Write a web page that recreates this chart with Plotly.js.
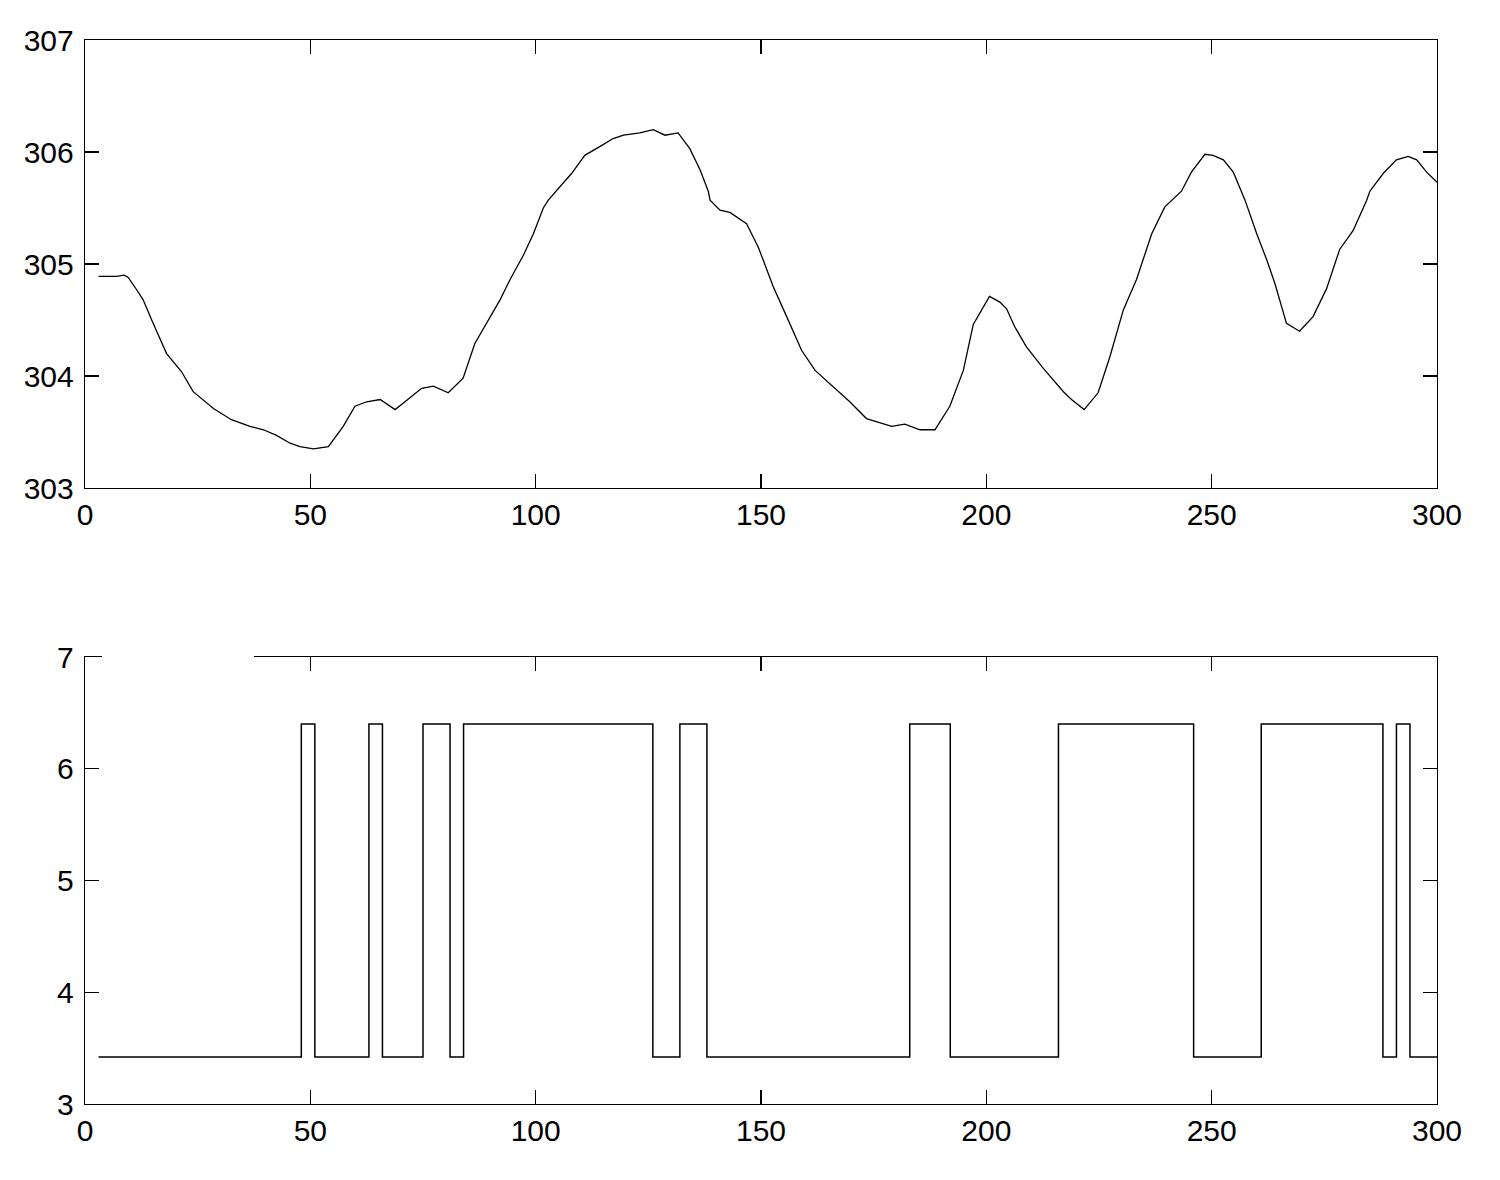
<!DOCTYPE html>
<html>
<head>
<meta charset="utf-8">
<script src="https://cdn.plot.ly/plotly-3.0.1.min.js"></script>
<style>html,body{margin:0;padding:0;background:#fff;}#chart{width:1500px;height:1180px;}</style>
</head>
<body>
<div id="chart"></div>
<script>
// Top panel: signal samples
const sigX = [3, 7, 8.7, 9.6, 11.8, 12.9, 14.8, 17.4, 18.1, 21.4, 24, 28.5, 32.5, 36.6, 39.6, 42.5, 45.5, 47.7, 50.7, 54, 55.1, 57.3, 59.9, 62.5, 65.5, 68.8, 71, 74.7, 77.3, 80.6, 83.9, 86.5, 92.1, 94.3, 97.3, 99.5, 101.7, 102.8, 108, 110.9, 114.3, 117.2, 119.5, 123.1, 126.1, 128.7, 131.6, 134.2, 136.5, 138.3, 138.7, 140.9, 143.1, 146.8, 149.4, 152.7, 155.7, 159, 162, 166, 169.7, 173.4, 176.4, 179, 181.9, 185.3, 188.6, 191.9, 194.9, 197.1, 200.7, 203, 204.5, 206.3, 208.9, 212.6, 217.1, 218.9, 221.7, 224.8, 227.4, 230.4, 233.3, 236.7, 239.6, 241.1, 243.3, 245.5, 248.5, 250.3, 252.6, 254.8, 257.4, 260, 262.2, 264, 266.6, 269.5, 272.5, 275.5, 278.4, 281.4, 284.4, 285.1, 288.1, 291, 293.6, 295.5, 297.7, 300];
const sigY = [304.89, 304.89, 304.90, 304.88, 304.75, 304.68, 304.50, 304.26, 304.20, 304.04, 303.86, 303.71, 303.61, 303.55, 303.52, 303.47, 303.40, 303.37, 303.35, 303.37, 303.43, 303.55, 303.73, 303.77, 303.79, 303.70, 303.77, 303.89, 303.91, 303.85, 303.98, 304.29, 304.68, 304.86, 305.08, 305.27, 305.50, 305.57, 305.81, 305.97, 306.05, 306.12, 306.15, 306.17, 306.20, 306.15, 306.17, 306.03, 305.84, 305.65, 305.57, 305.48, 305.46, 305.36, 305.15, 304.80, 304.53, 304.23, 304.05, 303.90, 303.77, 303.62, 303.58, 303.55, 303.57, 303.52, 303.52, 303.73, 304.05, 304.46, 304.71, 304.66, 304.60, 304.44, 304.26, 304.07, 303.86, 303.79, 303.70, 303.85, 304.17, 304.59, 304.86, 305.27, 305.51, 305.57, 305.65, 305.82, 305.98, 305.97, 305.93, 305.82, 305.57, 305.27, 305.04, 304.83, 304.47, 304.40, 304.53, 304.78, 305.13, 305.30, 305.57, 305.65, 305.81, 305.93, 305.96, 305.93, 305.82, 305.73];

// Bottom panel: step states
const stepX = [3, 48, 51, 63, 66, 75, 81, 84, 126, 132, 138, 183, 192, 216, 246, 261, 288, 291, 294, 300];
const stepY = [3.42, 6.4, 3.42, 6.4, 3.42, 6.4, 3.42, 6.4, 3.42, 6.4, 3.42, 6.4, 3.42, 6.4, 3.42, 6.4, 3.42, 6.4, 3.42, 3.42];

const xTicks = [0, 50, 100, 150, 200, 250, 300];
const yTicksTop = [303, 304, 305, 306, 307];
const yTicksBottom = [3, 4, 5, 6, 7];

const W = 1500, H = 1180;
const axFont = {family: 'Liberation Sans, Arial, sans-serif', size: 30, color: '#000'};
function axis(extra) {
  return Object.assign({
    showline: true, mirror: 'ticks', linecolor: '#000', linewidth: 1.3,
    ticks: 'inside', ticklen: 14, tickwidth: 1.3, tickcolor: '#000',
    showgrid: false, zeroline: false, tickfont: axFont, automargin: false
  }, extra);
}

const traces = [
  {x: sigX, y: sigY, type: 'scatter', mode: 'lines', line: {color: '#000', width: 1.3}, xaxis: 'x', yaxis: 'y', hoverinfo: 'skip'},
  {x: stepX, y: stepY, type: 'scatter', mode: 'lines', line: {color: '#000', width: 1.5, shape: 'hv'}, xaxis: 'x2', yaxis: 'y2', hoverinfo: 'skip'}
];

const xd = [85 / W, 1437 / W];
const layout = {
  width: W, height: H,
  margin: {l: 0, r: 0, t: 0, b: 0},
  paper_bgcolor: '#fff', plot_bgcolor: '#fff',
  showlegend: false,
  xaxis: axis({domain: xd, range: [0, 300], tickvals: xTicks, anchor: 'y', ticklabelstandoff: 0}),
  yaxis: axis({domain: [1 - 488 / H, 1 - 40 / H], range: [303, 307], tickvals: yTicksTop, anchor: 'x', ticklabelstandoff: 4}),
  xaxis2: axis({domain: xd, range: [0, 300], tickvals: xTicks, anchor: 'y2', ticklabelstandoff: 0}),
  yaxis2: axis({domain: [1 - 1104 / H, 1 - 657 / H], range: [3, 7], tickvals: yTicksBottom, anchor: 'x2', ticklabelstandoff: 4}),
  shapes: [
    {type: 'rect', xref: 'paper', yref: 'paper', x0: 102 / W, x1: 254 / W, y0: 1 - 723 / H, y1: 1 - 573 / H,
     fillcolor: '#fff', line: {width: 0}, layer: 'above'}
  ]
};

Plotly.newPlot('chart', traces, layout, {staticPlot: true, displayModeBar: false});
</script>
</body>
</html>
